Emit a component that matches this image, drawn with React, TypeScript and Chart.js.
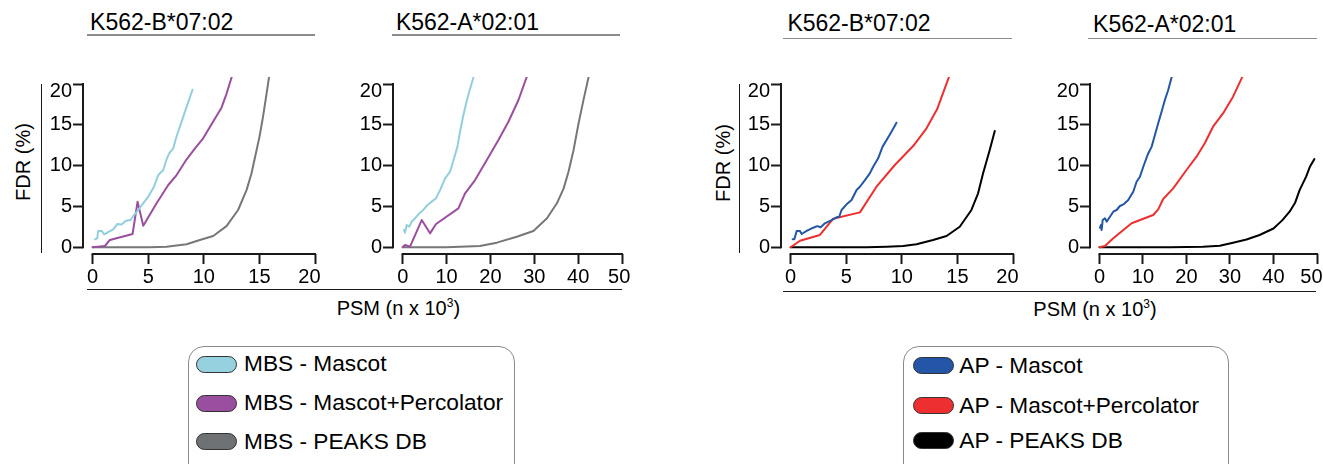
import React, { useEffect, useRef } from "react";
import { Chart, registerables } from "chart.js";

Chart.register(...registerables);

type Pt = [number, number];

const FONT = "'Liberation Sans', Arial, Helvetica, sans-serif";

// ---------- tick labels ----------
const yTicks = [0, 5, 10, 15, 20];
const xTicksB0702 = [0, 5, 10, 15, 20];
const xTicksA0201 = [0, 10, 20, 30, 40, 50];

// ---------- text ----------
const panelTitles = ["K562-B*07:02", "K562-A*02:01", "K562-B*07:02", "K562-A*02:01"];
const yAxisTitle = "FDR (%)";
const xAxisTitle = "PSM (n x 10";
const mbsLegend = ["MBS - Mascot", "MBS - Mascot+Percolator", "MBS - PEAKS DB"];
const apLegend = ["AP - Mascot", "AP - Mascot+Percolator", "AP - PEAKS DB"];

// ---------- colours ----------
const mbsColors = ["#92cedc", "#9b4e9e", "#75777a"];
const mbsSwatch = ["#95d1de", "#9a4e9f", "#6e7274"];
const apColors = ["#2357a6", "#ee2f2f", "#000000"];
const apSwatch = ["#2356a6", "#ee2f2f", "#000000"];

// ---------- data: [PSM (n x 10^3), FDR (%)] ----------
const mbsB0702Mascot: Pt[] = [
  [0.21, 0.98], [0.41, 1.1], [0.5, 2.0], [0.81, 2.0], [1.04, 1.59], [1.31, 1.79], [1.85, 2.2],
  [2.21, 2.85], [2.6, 2.8], [2.99, 3.26], [3.41, 3.34], [3.65, 3.83], [4.1, 4.57], [4.49, 5.3],
  [5.0, 6.2], [5.51, 7.42], [5.9, 8.85], [6.35, 9.47], [6.65, 10.78], [6.88, 11.5], [7.24, 12.1],
  [7.55, 13.6], [8.0, 15.4], [8.45, 17.2], [8.98, 19.3],
];
const mbsB0702Percolator: Pt[] = [
  [0, 0], [1.1, 0.16], [1.55, 0.9], [3.59, 1.63], [4.04, 5.59], [4.55, 2.65], [5.75, 5.39],
  [6.8, 7.63], [7.55, 8.85], [8.45, 10.78], [9.19, 12.1], [9.94, 13.35], [10.84, 15.4],
  [11.59, 17.1], [12.04, 18.8], [12.54, 21.0],
];
const mbsB0702Peaks: Pt[] = [
  [0, 0], [5.15, 0], [6.65, 0.08], [8.45, 0.37], [9.64, 0.9], [10.84, 1.38], [12.04, 2.6],
  [13.08, 4.57], [13.84, 7.0], [14.28, 9.0], [14.6, 11.0], [15.0, 13.5], [15.3, 15.8],
  [15.55, 18.0], [15.87, 20.9],
];
const mbsA0201Mascot: Pt[] = [
  [0.3, 2.12], [0.52, 1.79], [0.91, 2.73], [1.51, 2.52], [2.05, 3.14], [2.81, 3.55], [3.79, 4.16],
  [4.7, 4.57], [5.62, 5.18], [6.62, 5.59], [7.6, 6.0], [8.52, 7.0], [9.66, 8.45], [10.8, 9.26],
  [11.71, 10.9], [12.47, 12.3], [13.08, 14.16], [13.84, 16.2], [14.75, 18.25], [16.12, 20.8],
];
const mbsA0201Percolator: Pt[] = [
  [0, 0], [0.52, 0.28], [1.67, 0.08], [4.34, 3.34], [6.23, 1.71], [7.6, 2.85], [12.7, 4.77],
  [14.22, 6.61], [16.5, 8.24], [19.18, 10.69], [21.83, 13.14], [24.1, 15.38], [26.4, 18.04],
  [28.3, 20.9],
];
const mbsA0201Peaks: Pt[] = [
  [0, 0], [10, 0], [17.6, 0.16], [21.46, 0.57], [26, 1.3], [29.8, 2.0], [32.9, 3.55],
  [35.16, 5.39], [36.7, 7.22], [37.8, 9.26], [38.95, 11.9], [40.1, 15.2], [41.2, 18.0],
  [42.4, 20.9],
];
const apB0702Mascot: Pt[] = [
  [0.18, 0.98], [0.33, 0.98], [0.54, 2.0], [0.84, 2.0], [0.99, 1.63], [1.44, 2.0], [2.03, 2.4],
  [2.39, 2.6], [2.7, 2.45], [3.08, 2.94], [3.68, 3.34], [4.13, 3.67], [4.37, 3.75], [4.58, 4.57],
  [5.03, 5.26], [5.48, 5.79], [5.93, 7.02], [6.23, 7.42], [6.68, 8.24], [7.12, 9.06],
  [7.42, 9.87], [7.87, 10.9], [8.26, 12.3], [8.63, 13.14], [9.07, 14.16], [9.52, 15.26],
];
const apB0702Percolator: Pt[] = [
  [0, 0], [0.84, 0.81], [2.63, 1.51], [3.83, 3.5], [6.23, 4.28], [7.72, 7.42], [9.37, 10.08],
  [11.02, 12.4], [12.22, 14.57], [13.17, 16.9], [14.25, 20.9],
];
const apB0702Peaks: Pt[] = [
  [0, 0], [6.83, 0], [8.63, 0.08], [10.12, 0.16], [11.32, 0.37], [12.81, 0.9], [14.02, 1.38],
  [15.21, 2.52], [16.26, 4.57], [16.86, 6.61], [17.31, 9.06], [17.9, 11.9], [18.36, 14.24],
];
const apA0201Mascot: Pt[] = [
  [0.11, 2.4], [0.34, 2.73], [0.5, 2.12], [0.73, 3.34], [1.26, 3.55], [1.65, 3.14], [2.41, 3.75],
  [3.17, 4.36], [3.94, 4.57], [4.7, 5.06], [5.62, 5.3], [6.61, 5.79], [7.76, 6.81], [8.53, 8.03],
  [9.3, 8.65], [10.21, 10.08], [11.2, 11.5], [11.98, 12.3], [12.74, 13.75], [13.5, 15.19],
  [14.27, 16.6], [15.03, 18.04], [15.8, 19.27], [16.57, 20.8],
];
const apA0201Percolator: Pt[] = [
  [0, 0], [1.26, 0.16], [3.17, 1.1], [7.39, 2.94], [12.35, 3.96], [13.5, 4.65], [14.64, 5.92],
  [16.94, 7.22], [20.0, 9.47], [22.3, 11.1], [24.2, 12.74], [26.1, 14.77], [28.4, 16.4],
  [30.7, 18.45], [32.86, 20.9],
];
const apA0201Peaks: Pt[] = [
  [0, 0], [16.2, 0], [23.8, 0.08], [27.66, 0.2], [30.7, 0.57], [33.8, 0.95], [36.8, 1.51],
  [40, 2.3], [42, 3.3], [43.7, 4.36], [45, 5.5], [46, 7.0], [47.5, 8.65], [48.4, 9.9], [49.4, 10.8],
];

// ---------- layout ----------
const Y_MIN = -0.82;
const Y_MAX = 20.86;
const CANVAS_TOP = 61;
const CANVAS_H = 233;
const PAD_TOP = 16;
const PAD_RIGHT = 20;
const Y_AXIS_W = 40;
const X_AXIS_H = 40;

type PanelProps = {
  left: number;
  plotWidth: number;
  xMin: number;
  xMax: number;
  xTicks: number[];
  lastSuffix: string;
  series: Pt[][];
  colors: string[];
  labels: string[];
};

function Panel({ left, plotWidth, xMin, xMax, xTicks, lastSuffix, series, colors, labels }: PanelProps) {
  const ref = useRef<HTMLCanvasElement>(null);
  const width = plotWidth + Y_AXIS_W + PAD_RIGHT;

  useEffect(() => {
    const axisLines = {
      id: "axisLines",
      afterDraw(chart: any) {
        const { ctx, chartArea, scales } = chart;
        const xs = scales.x;
        const ys = scales.y;
        ctx.save();
        ctx.strokeStyle = "#1a1a1a";
        ctx.lineWidth = 2;
        ctx.lineCap = "butt";
        ctx.beginPath();
        ctx.moveTo(xs.getPixelForValue(xTicks[0]) - 1, chartArea.bottom);
        ctx.lineTo(xs.getPixelForValue(xTicks[xTicks.length - 1]) + 1, chartArea.bottom);
        ctx.moveTo(chartArea.left, ys.getPixelForValue(yTicks[0]) + 1);
        ctx.lineTo(chartArea.left, ys.getPixelForValue(yTicks[yTicks.length - 1]) - 1);
        ctx.stroke();
        ctx.restore();
      },
    };

    const lastX = xTicks[xTicks.length - 1];
    const chart = new Chart(ref.current as HTMLCanvasElement, {
      type: "line",
      data: {
        datasets: series.map((pts, i) => ({
          label: labels[i],
          data: pts.map(([x, y]) => ({ x, y })),
          borderColor: colors[i],
          backgroundColor: colors[i],
          borderWidth: 2,
          pointRadius: 0,
          fill: false,
          tension: 0,
          borderJoinStyle: "round",
          borderCapStyle: "round",
        })),
      },
      options: {
        responsive: false,
        animation: false,
        devicePixelRatio: 1,
        layout: { padding: { left: 0, top: PAD_TOP, right: PAD_RIGHT, bottom: 0 } },
        plugins: { legend: { display: false }, tooltip: { enabled: false } },
        scales: {
          x: {
            type: "linear",
            min: xMin,
            max: xMax,
            afterFit: (s: any) => {
              s.height = X_AXIS_H;
            },
            afterBuildTicks: (s: any) => {
              s.ticks = xTicks.map((v) => ({ value: v }));
            },
            border: { display: false },
            grid: {
              drawOnChartArea: false,
              drawTicks: true,
              tickLength: 10,
              tickWidth: 2,
              tickColor: "#1a1a1a",
              color: "#1a1a1a",
            },
            ticks: {
              font: { family: FONT, size: 20 },
              color: "#000",
              padding: 1,
              maxRotation: 0,
              minRotation: 0,
              autoSkip: false,
              callback: (v: any) => (v === lastX ? String(v) + lastSuffix : String(v)),
            },
          },
          y: {
            type: "linear",
            min: Y_MIN,
            max: Y_MAX,
            afterFit: (s: any) => {
              s.width = Y_AXIS_W;
            },
            afterBuildTicks: (s: any) => {
              s.ticks = yTicks.map((v) => ({ value: v }));
            },
            border: { display: false },
            grid: {
              drawOnChartArea: false,
              drawTicks: true,
              tickLength: 10,
              tickWidth: 2,
              tickColor: "#1a1a1a",
              color: "#1a1a1a",
            },
            ticks: {
              color: "#000",
              padding: 1,
              autoSkip: false,
              font: (ctx: any) => ({
                family: FONT,
                size: 20,
                lineHeight: ctx.tick && ctx.tick.value === 20 ? "14px" : 1.2,
              }),
              callback: (v: any) => (v === 20 ? ["", "20"] : String(v)),
            },
          },
        },
      },
      plugins: [axisLines],
    } as any);
    return () => chart.destroy();
  }, []);

  return (
    <canvas
      ref={ref}
      width={width}
      height={CANVAS_H}
      style={{ position: "absolute", left, top: CANVAS_TOP, width, height: CANVAS_H }}
    />
  );
}

function Txt({
  x,
  base,
  size,
  align = "left",
  children,
}: {
  x: number;
  base: number;
  size: number;
  align?: "left" | "center";
  children: React.ReactNode;
}) {
  const w = 400;
  return (
    <div
      style={{
        position: "absolute",
        left: align === "center" ? x - w / 2 : x,
        top: base - 0.8465 * size,
        width: align === "center" ? w : undefined,
        textAlign: align,
        fontSize: size,
        lineHeight: size + "px",
        whiteSpace: "nowrap",
        color: "#000",
      }}
    >
      {children}
    </div>
  );
}

function HLine({ x1, x2, y, color, w }: { x1: number; x2: number; y: number; color: string; w: number }) {
  return (
    <div style={{ position: "absolute", left: x1, top: y - w / 2, width: x2 - x1, height: w, background: color }} />
  );
}

function VLine({ x, y1, y2, color, w }: { x: number; y1: number; y2: number; color: string; w: number }) {
  return (
    <div style={{ position: "absolute", left: x - w / 2, top: y1, width: w, height: y2 - y1, background: color }} />
  );
}

function RotLabel({ cx, cy }: { cx: number; cy: number }) {
  return (
    <div
      style={{
        position: "absolute",
        left: cx - 100,
        top: cy - 10,
        width: 200,
        height: 20,
        lineHeight: "20px",
        fontSize: 20,
        textAlign: "center",
        transform: "rotate(-90deg)",
        whiteSpace: "nowrap",
      }}
    >
      {yAxisTitle}
    </div>
  );
}

function PsmLabel({ x, base }: { x: number; base: number }) {
  return (
    <Txt x={x} base={base} size={20}>
      {xAxisTitle}
      <span style={{ fontSize: 12, position: "relative", top: -8 }}>3</span>)
    </Txt>
  );
}

function Legend({
  left,
  width,
  swatchX,
  textX,
  bases,
  labels,
  swatches,
}: {
  left: number;
  width: number;
  swatchX: number;
  textX: number;
  bases: number[];
  labels: string[];
  swatches: string[];
}) {
  return (
    <>
      <div
        style={{
          position: "absolute",
          left,
          top: 346,
          width,
          height: 150,
          border: "1.5px solid #8a8a8a",
          borderRadius: 16,
          boxSizing: "border-box",
        }}
      />
      {labels.map((l, i) => (
        <React.Fragment key={l}>
          <div
            style={{
              position: "absolute",
              left: swatchX,
              top: bases[i] - 16,
              width: 41,
              height: 17,
              borderRadius: 9,
              background: swatches[i],
              border: "1px solid #333",
              boxSizing: "border-box",
            }}
          />
          <Txt x={textX} base={bases[i]} size={22.7}>
            {l}
          </Txt>
        </React.Fragment>
      ))}
    </>
  );
}

export default function App() {
  return (
    <div
      style={{
        position: "absolute",
        left: 0,
        top: 0,
        width: 1323,
        height: 464,
        overflow: "hidden",
        background: "#fff",
        fontFamily: FONT,
      }}
    >
      {/* titles */}
      <Txt x={161.7} base={30} size={23} align="center">{panelTitles[0]}</Txt>
      <Txt x={467.5} base={30} size={23} align="center">{panelTitles[1]}</Txt>
      <Txt x={859} base={31.8} size={23} align="center">{panelTitles[2]}</Txt>
      <Txt x={1164.7} base={32} size={23} align="center">{panelTitles[3]}</Txt>
      <HLine x1={87} x2={315} y={35} color="#8c8c8c" w={1.5} />
      <HLine x1={392} x2={620} y={35} color="#8c8c8c" w={1.5} />
      <HLine x1={783} x2={1012} y={38.3} color="#8c8c8c" w={1.5} />
      <HLine x1={1088} x2={1317} y={38.3} color="#8c8c8c" w={1.5} />

      {/* y titles and brackets */}
      <RotLabel cx={23.1} cy={162} />
      <RotLabel cx={723.1} cy={162.5} />
      <VLine x={41.7} y1={84} y2={252.7} color="#1a1a1a" w={1.3} />
      <VLine x={739.3} y1={84} y2={252.7} color="#1a1a1a" w={1.3} />

      {/* charts */}
      <Panel
        left={43}
        plotWidth={232}
        xMin={-0.87}
        xMax={20}
        xTicks={xTicksB0702}
        lastSuffix="  "
        series={[mbsB0702Mascot, mbsB0702Percolator, mbsB0702Peaks]}
        colors={mbsColors}
        labels={mbsLegend}
      />
      <Panel
        left={353}
        plotWidth={229}
        xMin={-2.21}
        xMax={50}
        xTicks={xTicksA0201}
        lastSuffix=" "
        series={[mbsA0201Mascot, mbsA0201Percolator, mbsA0201Peaks]}
        colors={mbsColors}
        labels={mbsLegend}
      />
      <Panel
        left={741}
        plotWidth={232}
        xMin={-0.87}
        xMax={20}
        xTicks={xTicksB0702}
        lastSuffix="  "
        series={[apB0702Mascot, apB0702Percolator, apB0702Peaks]}
        colors={apColors}
        labels={apLegend}
      />
      <Panel
        left={1050}
        plotWidth={227}
        xMin={-2.18}
        xMax={50}
        xTicks={xTicksA0201}
        lastSuffix="  "
        series={[apA0201Mascot, apA0201Percolator, apA0201Peaks]}
        colors={apColors}
        labels={apLegend}
      />

      {/* bottom lines + x titles */}
      <HLine x1={86.7} x2={621.7} y={289.5} color="#1a1a1a" w={1.2} />
      <HLine x1={783.3} x2={1316} y={291.5} color="#1a1a1a" w={1.2} />
      <PsmLabel x={336.7} base={315.3} />
      <PsmLabel x={1033.3} base={316} />

      {/* legends */}
      <Legend
        left={188}
        width={327}
        swatchX={196}
        textX={244}
        bases={[371.5, 410.7, 449]}
        labels={mbsLegend}
        swatches={mbsSwatch}
      />
      <Legend
        left={903}
        width={326}
        swatchX={912.7}
        textX={959.3}
        bases={[373, 413.3, 448]}
        labels={apLegend}
        swatches={apSwatch}
      />
    </div>
  );
}
